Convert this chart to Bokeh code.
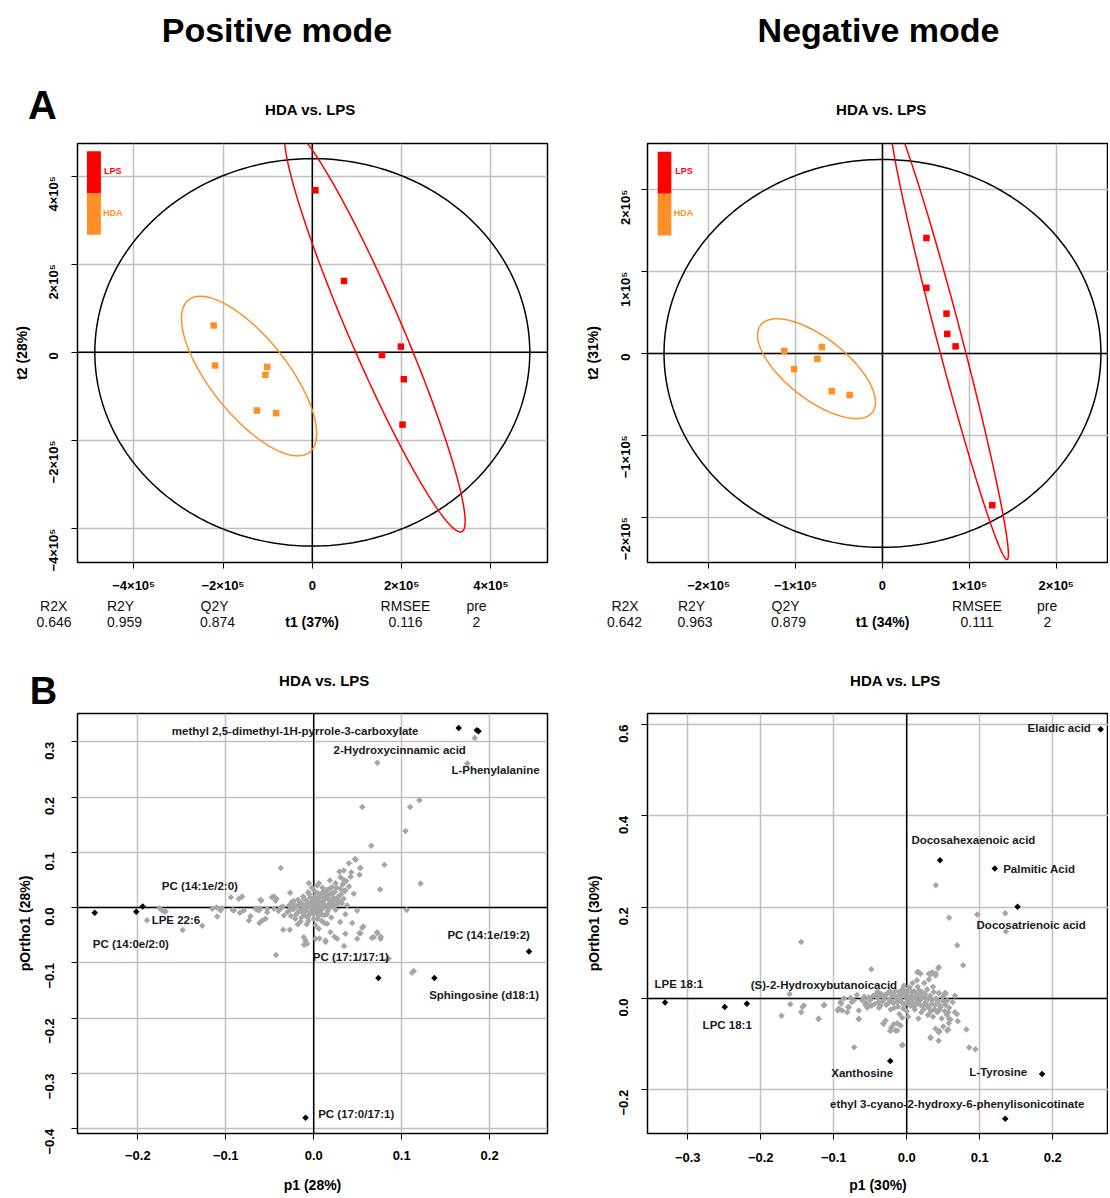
import numpy as np
from bokeh.plotting import figure
from bokeh.models import Range1d, FixedTicker, Span, Label
from bokeh.layouts import column, row
from bokeh.embed import file_html
from bokeh.resources import INLINE
from bokeh.core.properties import value

FONT = "Liberation Sans"

# ---------------- data ----------------
# OPLS-DA scores, positive mode
pos_lps_t1 = [0.07e5, 0.71e5, 1.56e5, 1.985e5, 2.05e5, 2.02e5]
pos_lps_t2 = [3.68e5, 1.62e5, -0.06e5, 0.13e5, -0.61e5, -1.64e5]
pos_hda_t1 = [-2.21e5, -2.18e5, -1.01e5, -1.05e5, -1.24e5, -0.81e5]
pos_hda_t2 = [0.61e5, -0.30e5, -0.33e5, -0.51e5, -1.32e5, -1.38e5]
# OPLS-DA scores, negative mode
neg_lps_t1 = [0.506e5, 0.506e5, 0.737e5, 0.745e5, 0.841e5, 1.263e5]
neg_lps_t2 = [1.41e5, 0.80e5, 0.486e5, 0.238e5, 0.086e5, -1.854e5]
neg_hda_t1 = [-1.13e5, -0.697e5, -0.749e5, -1.017e5, -0.584e5, -0.378e5]
neg_hda_t2 = [0.03e5, 0.078e5, -0.066e5, -0.191e5, -0.461e5, -0.508e5]

stat_names = ["R2X", "R2Y", "Q2Y", "RMSEE", "pre"]
pos_stat_values = ["0.646", "0.959", "0.874", "0.116", "2"]
neg_stat_values = ["0.642", "0.963", "0.879", "0.111", "2"]

pos_ticks = [-400000, -200000, 0, 200000, 400000]
pos_tick_labels = ["\u22124\u00d710\u2075", "\u22122\u00d710\u2075", "0", "2\u00d710\u2075", "4\u00d710\u2075"]
neg_ticks = [-200000, -100000, 0, 100000, 200000]
neg_tick_labels = ["\u22122\u00d710\u2075", "\u22121\u00d710\u2075", "0", "1\u00d710\u2075", "2\u00d710\u2075"]

# Loadings (S-plot) positive mode: highlighted metabolites
pos_hi_p1 = [-0.249, -0.2018, -0.1945, 0.1648, 0.1855, 0.1875, 0.2448, 0.0735, 0.1372, -0.0093]
pos_hi_po1 = [-0.0093, -0.0074, 0.0019, 0.3246, 0.3205, 0.3190, -0.0795, -0.1273, -0.1273, -0.380]
pos_names = ["methyl 2,5-dimethyl-1H-pyrrole-3-carboxylate", "2-Hydroxycinnamic acid", "L-Phenylalanine",
             "PC (14:1e/2:0)", "LPE 22:6", "PC (14:0e/2:0)", "PC (14:1e/19:2)", "PC (17:1/17:1)",
             "Sphingosine (d18:1)", "PC (17:0/17:1)"]
pos_name_x = [-0.0211, 0.0978, 0.2067, -0.1295, -0.1567, -0.2079, 0.1989, 0.0422, 0.1937, 0.0483]
pos_name_y = [0.3197, 0.2843, 0.2495, 0.0391, -0.0217, -0.0652, -0.0497, -0.090, -0.1583, -0.3724]

# Loadings positive mode: all other variables (p1, pOrtho1)
pos_grey = [
    (-0.030, -0.008), (-0.028, 0.004), (-0.026, -0.015), (-0.025, 0.010), (-0.024, -0.003), (-0.022, 0.006),
    (-0.021, -0.020), (-0.020, 0.000), (-0.019, -0.010), (-0.018, 0.014), (-0.017, 0.004), (-0.016, -0.006),
    (-0.015, -0.025), (-0.014, 0.008), (-0.013, -0.002), (-0.012, 0.020), (-0.011, -0.014), (-0.010, 0.004),
    (-0.009, -0.006), (-0.008, 0.012), (-0.007, -0.018), (-0.006, 0.001), (-0.005, 0.024), (-0.004, -0.009),
    (-0.003, 0.008), (-0.002, -0.002), (-0.001, 0.015), (0.000, -0.012), (0.000, 0.004), (0.001, 0.030),
    (0.002, -0.004), (0.003, 0.010), (0.004, -0.020), (0.005, 0.002), (0.006, 0.018), (0.007, -0.008),
    (0.008, 0.006), (0.009, 0.026), (0.010, -0.002), (0.011, 0.012), (0.012, -0.014), (0.013, 0.020),
    (0.014, 0.004), (0.015, 0.032), (0.016, -0.006), (0.017, 0.014), (0.018, 0.024), (0.019, 0.000),
    (0.020, -0.018), (0.021, 0.008), (0.022, 0.018), (0.024, 0.028), (0.025, -0.004), (0.026, 0.012),
    (0.028, 0.020), (0.030, -0.026), (0.032, 0.008), (0.034, 0.016), (0.036, -0.012), (0.038, 0.004),
    (-0.002, 0.036), (0.004, 0.040), (0.010, 0.036), (-0.008, -0.030), (0.002, -0.032), (0.012, -0.028),
    (-0.018, -0.030), (0.006, 0.044), (-0.035, 0.002), (-0.040, -0.006),
    (-0.027, -0.004), (-0.023, 0.012), (-0.020, -0.013), (-0.016, 0.010), (-0.013, -0.008), (-0.011, 0.016),
    (-0.009, 0.000), (-0.007, 0.006), (-0.005, -0.013), (-0.004, 0.018), (-0.002, 0.010), (-0.001, -0.006),
    (0.001, 0.020), (0.002, 0.006), (0.003, -0.010), (0.004, 0.014), (0.005, 0.026), (0.006, -0.002),
    (0.007, 0.010), (0.008, 0.020), (0.009, -0.012), (0.010, 0.008), (0.011, 0.028), (0.012, 0.016),
    (0.013, 0.002), (0.014, 0.024), (0.016, 0.018), (0.017, 0.006), (0.018, 0.034), (0.020, 0.012),
    (0.021, 0.026), (0.023, 0.002), (0.024, 0.016), (0.026, 0.036), (0.027, 0.006), (0.029, 0.012),
    (0.031, 0.024), (0.033, 0.042), (0.035, 0.030), (0.037, 0.048), (0.040, 0.038), (0.042, 0.056),
    (-0.006, -0.024), (0.000, -0.020), (0.006, -0.014), (0.015, -0.012), (-0.014, -0.018), (0.009, -0.024),
    (0.040, 0.080), (0.0477, 0.0864), (0.0532, 0.072), (0.0521, 0.0592), (0.0343, 0.067), (0.0293, 0.0652),
    (0.0426, 0.064), (0.0304, 0.055), (0.0343, 0.050), (0.0184, 0.049), (0.0248, 0.0442), (0.021, 0.0369),
    (0.0304, 0.0339), (0.036, 0.0309), (0.0456, 0.0249), (0.0494, -0.0053), (-0.0055, 0.0442),
    (-0.0063, 0.0279), (-0.0268, 0.0267), (-0.0453, 0.0201), (-0.0423, 0.0159), (-0.0605, -0.002),
    (-0.053, -0.002), (-0.0453, -0.002), (-0.0378, -0.002), (-0.0226, -0.002), (-0.0548, -0.0203),
    (-0.0339, -0.0143), (-0.0347, -0.0402), (-0.0272, -0.0402), (-0.0113, -0.0535), (-0.0093, -0.0595),
    (-0.0075, -0.0655), (0.0020, -0.0565), (0.0058, -0.0384), (0.0153, -0.0294), (0.019, -0.0444),
    (0.0266, -0.0565), (0.036, -0.0474), (0.0494, -0.0565), (0.0532, -0.0462), (0.055, -0.0366),
    (0.0684, -0.0535), (0.0721, -0.0444), (0.0759, -0.0565), (0.0134, -0.0595),
    (0.1831, 0.3066), (0.1746, 0.2607), (0.0723, 0.2619), (0.1202, 0.1943), (0.0552, 0.1819), (0.1096, 0.1819),
    (0.1043, 0.1384), (0.0654, 0.1117), (0.0471, 0.0881), (0.0804, 0.0776), (0.0528, 0.0714), (-0.0374, 0.0714),
    (0.1214, 0.0435), (0.0755, 0.0329), (0.1056, -0.0043), (0.1137, -0.1148), (0.1117, -0.118), (0.0836, -0.0944),
    (0.0723, -0.0466), (0.0763, -0.0528), (0.0662, -0.0546), (0.0345, -0.0695), (0.052, -0.0466), (0.0564, -0.0341),
    (0.0438, -0.0279), (-0.043, -0.0857), (-0.011, -0.067), (0.0134, -0.062), (0.0065, -0.0559), (0.0235, -0.0528),
    (0.085, -0.092),
    (-0.1896, -0.023), (-0.1705, -0.0062), (-0.1754, -0.0012), (-0.149, -0.0403), (-0.1267, -0.0329),
    (-0.1104, 0.0), (-0.1043, -0.0012), (-0.0942, 0.0186), (-0.0922, -0.0043), (-0.084, -0.0093),
    (-0.0719, -0.0155), (-0.0646, -0.0031), (-0.0617, -0.0279), (-0.0597, 0.0124), (-0.0475, 0.0186),
    (-0.0434, 0.0124), (-0.0374, 0.0), (-0.1723, -0.0052), (-0.1685, -0.007), (-0.1154, -0.0022),
    (-0.1097, -0.0161), (-0.106, -0.0052), (-0.0908, -0.0052), (-0.0852, 0.0159), (-0.0813, 0.0201),
    (-0.0795, -0.0052), (-0.0738, -0.0233), (-0.0605, 0.0141), (-0.0624, -0.0052), (-0.0586, -0.0233),
    (-0.0529, -0.0083), (-0.0662, -0.0022),
]

# Loadings negative mode: highlighted metabolites
neg_hi_p1 = [0.2656, 0.0456, 0.1206, 0.1518, -0.331, -0.2493, -0.219, -0.0226, 0.1854, 0.135]
neg_hi_po1 = [0.590, 0.303, 0.285, 0.2008, -0.009, -0.0188, -0.0113, -0.1368, -0.1654, -0.2632]
neg_names = ["Elaidic acid", "Docosahexaenoic acid", "Palmitic Acid", "Docosatrienoic acid", "LPE 18:1",
             "LPC 18:1", "(S)-2-Hydroxybutanoicacid", "Xanthosine", "L-Tyrosine",
             "ethyl 3-cyano-2-hydroxy-6-phenylisonicotinate"]
neg_name_x = [0.2089, 0.0913, 0.1816, 0.1705, -0.3122, -0.2459, -0.1134, -0.061, 0.1254, 0.0692]
neg_name_y = [0.5925, 0.348, 0.2842, 0.1617, 0.0323, -0.0586, 0.0301, -0.1639, -0.1617, -0.2316]

neg_grey = [
    (-0.050, -0.004), (-0.046, 0.006), (-0.044, -0.012), (-0.040, 0.002), (-0.038, -0.020), (-0.035, 0.010),
    (-0.033, -0.006), (-0.030, 0.004), (-0.028, -0.014), (-0.026, 0.012), (-0.024, -0.002), (-0.022, -0.024),
    (-0.020, 0.006), (-0.018, -0.010), (-0.016, 0.016), (-0.014, 0.000), (-0.012, -0.018), (-0.010, 0.008),
    (-0.008, -0.006), (-0.006, 0.020), (-0.004, -0.014), (-0.002, 0.004), (0.000, -0.028), (0.000, 0.012),
    (0.002, -0.004), (0.004, 0.024), (0.005, -0.016), (0.006, 0.006), (0.008, -0.008), (0.010, 0.016),
    (0.011, -0.024), (0.012, 0.002), (0.014, -0.012), (0.015, 0.026), (0.016, 0.008), (0.018, -0.004),
    (0.020, -0.030), (0.021, 0.014), (0.022, -0.016), (0.024, 0.004), (0.026, -0.008), (0.028, 0.020),
    (0.029, -0.036), (0.030, -0.020), (0.032, 0.006), (0.034, -0.012), (0.036, -0.040), (0.038, -0.024),
    (0.040, 0.000), (0.042, -0.030), (0.044, 0.012), (0.046, -0.016), (0.048, -0.044), (0.050, -0.006),
    (0.052, -0.028), (0.055, -0.036), (0.058, -0.020), (0.060, -0.046), (-0.054, -0.020), (-0.058, 0.004),
    (0.008, 0.034), (-0.004, 0.028), (0.014, 0.040), (0.024, 0.034), (0.036, 0.026), (0.002, -0.040),
    (-0.010, -0.034), (0.016, -0.044), (0.066, -0.030), (0.070, -0.050), (0.063, -0.008), (0.066, 0.006),
    (-0.056, -0.010), (-0.052, 0.002), (-0.048, -0.016), (-0.042, 0.008), (-0.039, -0.008), (-0.036, -0.016),
    (-0.031, -0.002), (-0.029, 0.008), (-0.025, -0.010), (-0.023, 0.016), (-0.021, -0.006), (-0.019, 0.010),
    (-0.017, -0.020), (-0.015, 0.004), (-0.013, -0.008), (-0.011, 0.014), (-0.009, -0.002), (-0.007, 0.010),
    (-0.005, -0.022), (-0.003, 0.014), (-0.001, -0.010), (0.001, 0.020), (0.003, 0.002), (0.004, -0.010),
    (0.007, 0.014), (0.009, 0.000), (0.010, -0.018), (0.013, 0.010), (0.015, -0.006), (0.017, 0.018),
    (0.019, -0.014), (0.020, 0.002), (0.023, -0.024), (0.025, 0.010), (0.027, -0.014), (0.030, 0.000),
    (0.033, -0.028), (0.035, -0.004), (0.037, 0.014), (0.039, -0.014), (0.043, -0.006), (0.045, -0.024),
    (0.049, 0.004), (0.053, -0.014), (0.057, -0.030),
    (0.0399, 0.2481), (0.0581, 0.1767), (0.0965, 0.1842), (0.135, 0.1865), (0.1359, 0.1466), (0.0692, 0.1165),
    (0.0773, 0.0729), (-0.1446, 0.124), (-0.0485, 0.0639), (0.0432, 0.0662), (0.0399, 0.0549), (0.0327, 0.0526),
    (0.0159, 0.0579), (0.0303, 0.0414), (0.0528, 0.0128),
    (0.0941, -0.1113), (0.0855, -0.1075), (0.0817, -0.0677), (0.0567, -0.0677), (0.0447, -0.0714),
    (0.0437, -0.0925), (0.0327, -0.0865), (-0.0058, -0.1015), (-0.013, -0.0699), (-0.0226, -0.0714),
    (-0.0322, -0.0549), (-0.0178, -0.0564), (-0.072, -0.1068), (-0.0658, -0.0451), (0.0687, -0.0338),
    (0.0581, -0.0451),
    (-0.1715, -0.0376), (-0.1595, -0.0128), (-0.1604, 0.0098), (-0.1446, -0.0301), (-0.1427, -0.0188),
    (-0.121, -0.0451), (-0.1129, -0.0135), (-0.0946, -0.0263), (-0.0898, -0.0113), (-0.0802, -0.0188),
    (-0.0754, -0.0075), (-0.0682, 0.0075), (-0.061, -0.0038), (-0.0514, 0.0), (-0.0394, 0.015), (-0.0562, -0.015),
    (0.0144, 0.0576), (0.0189, 0.054), (0.0303, 0.054), (0.0349, 0.0576), (0.0395, 0.0504), (0.044, 0.0686),
    (-0.141, -0.0153), (-0.1136, -0.0153), (-0.1204, -0.0445), (-0.0907, -0.008), (-0.0861, 0.0),
    (-0.077, 0.0015), (-0.0724, -0.0044), (-0.093, -0.0226), (-0.0884, -0.0263), (-0.0815, -0.03),
    (-0.0793, -0.019), (-0.0656, -0.0263), (-0.0656, -0.0445), (-0.0564, -0.0116), (-0.0519, -0.0153),
    (-0.0404, 0.0138), (-0.0359, 0.0066), (-0.0314, -0.0554), (-0.0212, -0.064), (-0.0153, -0.0701),
    (-0.013, -0.0541), (-0.0062, -0.0423), (-0.0085, -0.0591), (-0.0062, -0.103), (-0.029, -0.048),
    (0.0326, -0.0847), (0.0395, -0.0664), (0.044, -0.0738), (0.05, -0.0613), (0.0555, -0.0701),
    (0.0577, -0.0541), (0.0532, 0.0103), (0.0555, -0.0044), (0.0463, -0.019),
]

pos_ld_xticks = [-0.2, -0.1, 0.0, 0.1, 0.2]
pos_ld_xlabels = ["\u22120.2", "\u22120.1", "0.0", "0.1", "0.2"]
pos_ld_yticks = [-0.4, -0.3, -0.2, -0.1, 0.0, 0.1, 0.2, 0.3]
pos_ld_ylabels = ["\u22120.4", "\u22120.3", "\u22120.2", "\u22120.1", "0.0", "0.1", "0.2", "0.3"]
neg_ld_xticks = [-0.3, -0.2, -0.1, 0.0, 0.1, 0.2]
neg_ld_xlabels = ["\u22120.3", "\u22120.2", "\u22120.1", "0.0", "0.1", "0.2"]
neg_ld_yticks = [-0.2, 0.0, 0.2, 0.4, 0.6]
neg_ld_ylabels = ["\u22120.2", "0.0", "0.2", "0.4", "0.6"]

# ---------------- style / layout constants ----------------
RED = "#FF0000"
ORANGE = "#FF8F26"
GREY = "#A6A6A6"
GRID = "#C0C0C0"
TXT = "#111111"

LW, RW = 566, 542  # column widths

# frame geometry (page pixels) and axis ranges
G1 = dict(fl=77, ft=143, fw=470, fh=421, ox=0, oy=130, w=LW, h=465, xr=(-5.259e5, 5.268e5), yr=(-4.77e5, 4.74e5))
G2 = dict(fl=647, ft=143, fw=461, fh=421, ox=566, oy=130, w=RW, h=465, xr=(-2.704e5, 2.601e5), yr=(-2.554e5, 2.564e5))
G3 = dict(fl=77, ft=713, fw=470, fh=420, ox=0, oy=712, w=LW, h=484, xr=(-0.2686, 0.2658), yr=(-0.4085, 0.351))
G4 = dict(fl=647, ft=713, fw=461, fh=420, ox=566, oy=712, w=RW, h=484, xr=(-0.3551, 0.2764), yr=(-0.2957, 0.6243))


def make_fig(g):
    p = figure(width=g["w"], height=g["h"],
               x_range=Range1d(*g["xr"]), y_range=Range1d(*g["yr"]),
               min_border_left=g["fl"] - g["ox"], min_border_top=g["ft"] - g["oy"],
               min_border_right=g["ox"] + g["w"] - g["fl"] - g["fw"],
               min_border_bottom=g["oy"] + g["h"] - g["ft"] - g["fh"],
               output_backend="svg", toolbar_location=None, frame_align=False)
    p.outline_line_color = "black"
    p.outline_line_width = 1.5
    p.background_fill_color = "white"
    p.border_fill_color = "white"
    return p


def strip(ox, oy, w, h):
    # a text-only panel; its frame covers the whole panel, coordinates = page pixels
    p = figure(width=w, height=h, x_range=Range1d(ox, ox + w), y_range=Range1d(oy + h, oy),
               x_axis_type=None, y_axis_type=None, min_border=0, min_border_left=0, min_border_right=0,
               min_border_top=0, min_border_bottom=0, output_backend="svg", toolbar_location=None,
               frame_align=False)
    p.outline_line_color = None
    p.background_fill_color = "white"
    p.border_fill_color = "white"
    return p


def stext(p, xs, ys, texts, size, bold=False, color="black", align="center"):
    p.text(x=list(xs), y=list(ys), text=list(texts), text_font=value(FONT), text_font_size=value(f"{size}px"),
           text_font_style="bold" if bold else "normal", text_color=color, text_align=align,
           text_baseline="middle")


def style_axes(p, xt, xl, yt, yl, xstand, ystand, ylab, ylabstand, xlab=None, xlabstand=0):
    for ax in (p.xaxis[0], p.yaxis[0]):
        ax.axis_line_color = None
        ax.major_tick_in = 0
        ax.major_tick_out = 6
        ax.major_tick_line_color = "black"
        ax.major_tick_line_width = 1
        ax.minor_tick_line_color = None
        ax.major_label_text_font = FONT
        ax.major_label_text_font_size = "13px"
        ax.major_label_text_font_style = "bold"
        ax.major_label_text_color = "black"
        ax.axis_label_text_font = FONT
        ax.axis_label_text_font_size = "14px"
        ax.axis_label_text_font_style = "bold"
        ax.axis_label_text_color = "black"
    xtk = FixedTicker(ticks=xt)
    ytk = FixedTicker(ticks=yt)
    p.xaxis.ticker = xtk
    p.yaxis.ticker = ytk
    p.xgrid.ticker = xtk
    p.ygrid.ticker = ytk
    p.xaxis.major_label_overrides = dict(zip(xt, xl))
    p.yaxis.major_label_overrides = dict(zip(yt, yl))
    p.xaxis.major_label_standoff = xstand
    p.yaxis.major_label_standoff = ystand
    p.yaxis.major_label_orientation = np.pi / 2
    p.yaxis.axis_label = ylab
    p.yaxis.axis_label_standoff = ylabstand
    if xlab:
        p.xaxis.axis_label = xlab
        p.xaxis.axis_label_standoff = xlabstand
    for gr in (p.xgrid, p.ygrid):
        gr.grid_line_color = GRID
        gr.grid_line_width = 1.5
    p.add_layout(Span(location=0, dimension="width", line_color="black", line_width=1.5, level="underlay"))
    p.add_layout(Span(location=0, dimension="height", line_color="black", line_width=1.5, level="underlay"))


def px2data(g, X, Y):
    x0, x1 = g["xr"]
    y0, y1 = g["yr"]
    return (x0 + (X - g["fl"]) / g["fw"] * (x1 - x0), y1 - (Y - g["ft"]) / g["fh"] * (y1 - y0))


def group_ellipse(t1, t2, n=240):
    X = np.column_stack([t1, t2])
    mu = X.mean(axis=0)
    L = np.linalg.cholesky(np.cov(X, rowvar=False))
    csq = -2.0 * np.log(0.05)  # chi-square(0.95, 2)
    th = np.linspace(0, 2 * np.pi, n)
    pts = mu[:, None] + np.sqrt(csq) * (L @ np.vstack([np.cos(th), np.sin(th)]))
    return pts[0], pts[1]


def hotelling_ellipse(t1, t2, n=360):
    N = len(t1)
    d2 = N - 2
    fq = (d2 / 2.0) * (0.05 ** (-2.0 / d2) - 1.0)  # F(0.95; 2, N-2)
    hot = (N - 1) * 2 * (N ** 2 - 1) / (N ** 2 * (N - 2)) * fq
    a = np.sqrt(np.var(t1, ddof=1) * hot)
    b = np.sqrt(np.var(t2, ddof=1) * hot)
    th = np.linspace(0, 2 * np.pi, n)
    return a * np.cos(th), b * np.sin(th)


def score_panel(g, lps_t1, lps_t2, hda_t1, hda_t2, xt, xl, yt, yl, ylab, ystand, ylabstand, bars, legpos):
    p = make_fig(g)
    style_axes(p, xt, xl, yt, yl, 9, ystand, ylab, ylabstand)
    all_t1 = np.array(lps_t1 + hda_t1)
    all_t2 = np.array(lps_t2 + hda_t2)
    hx, hy = hotelling_ellipse(all_t1, all_t2)
    p.line(hx, hy, line_color="black", line_width=1.5)
    ex, ey = group_ellipse(lps_t1, lps_t2)
    p.line(ex, ey, line_color=RED, line_width=1.5)
    ex, ey = group_ellipse(hda_t1, hda_t2)
    p.line(ex, ey, line_color=ORANGE, line_width=1.5)
    p.scatter(hda_t1, hda_t2, marker="square", size=6.5, fill_color=ORANGE, line_color=None)
    p.scatter(lps_t1, lps_t2, marker="square", size=6.5, fill_color=RED, line_color=None)
    # legend colour bar
    (bx0, bx1, by0, by1, by2) = bars
    l, t = px2data(g, bx0, by0)
    r, m = px2data(g, bx1, by1)
    _, b = px2data(g, bx1, by2)
    p.quad(left=[l], right=[r], top=[t], bottom=[m], fill_color=RED, line_color=None)
    p.quad(left=[l], right=[r], top=[m], bottom=[b], fill_color=ORANGE, line_color=None)
    fb = g["ft"] + g["fh"]
    for (X, Y), txt, col in zip(legpos, ["LPS", "HDA"], [RED, ORANGE]):
        p.add_layout(Label(x=X - g["fl"], y=fb - Y, x_units="screen", y_units="screen", text=txt,
                           text_font=FONT, text_font_size="9px", text_font_style="bold",
                           text_color=col, text_align="left", text_baseline="middle"))
    return p


def loading_panel(g, grey, hi_x, hi_y, names, nx, ny, xt, xl, yt, yl, xstand, ystand, ylab, ylabstand,
                  xlab, xlabstand):
    p = make_fig(g)
    style_axes(p, xt, xl, yt, yl, xstand, ystand, ylab, ylabstand, xlab, xlabstand)
    gx = [a for a, _ in grey]
    gy = [b for _, b in grey]
    p.scatter(gx, gy, marker="square", angle=np.pi / 4, size=4.6, fill_color=GREY, line_color=None)
    p.scatter(hi_x, hi_y, marker="square", angle=np.pi / 4, size=4.6, fill_color="black", line_color=None)
    p.text(x=nx, y=ny, text=names, text_font=value(FONT), text_font_size=value("11.5px"),
           text_font_style="bold", text_align="center", text_baseline="middle", text_color="#1a1a1a")
    return p


# ---------------- top row ----------------
h1 = strip(0, 0, LW, 130)
stext(h1, [276.5], [29], ["Positive mode"], 34, bold=True)
stext(h1, [42], [104], ["A"], 40, bold=True)
stext(h1, [310], [108.6], ["HDA vs. LPS"], 15, bold=True)

h2 = strip(566, 0, RW, 130)
stext(h2, [878], [29], ["Negative mode"], 34, bold=True)
stext(h2, [881], [108.6], ["HDA vs. LPS"], 15, bold=True)

p1 = score_panel(G1, pos_lps_t1, pos_lps_t2, pos_hda_t1, pos_hda_t2, pos_ticks, pos_tick_labels,
                 pos_ticks, pos_tick_labels, "t2 (28%)", 18, 6,
                 (86.4, 100.4, 150.7, 193.2, 234.6), [(103.6, 172.1), (102.5, 214.3)])
p2 = score_panel(G2, neg_lps_t1, neg_lps_t2, neg_hda_t1, neg_hda_t2, neg_ticks, neg_tick_labels,
                 neg_ticks, neg_tick_labels, "t2 (31%)", 16, 7,
                 (657.2, 670.8, 151.4, 193.6, 235.4), [(674.7, 172), (673.3, 214.6)])

t1s = strip(0, 595, LW, 53)
stext(t1s, [53.2, 120, 214, 405, 476], [605] * 5, stat_names, 14, color=TXT)
stext(t1s, [53.6, 124, 217, 405, 476], [621] * 5, pos_stat_values, 14, color=TXT)
stext(t1s, [311.6], [621], ["t1 (37%)"], 14, bold=True)

t2s = strip(566, 595, RW, 53)
stext(t2s, [624.5, 691, 785, 976.5, 1046.7], [605] * 5, stat_names, 14, color=TXT)
stext(t2s, [624, 694.5, 788, 976.5, 1047], [621] * 5, neg_stat_values, 14, color=TXT)
stext(t2s, [882], [621], ["t1 (34%)"], 14, bold=True)

# ---------------- bottom row ----------------
b1 = strip(0, 648, LW, 64)
stext(b1, [43], [690], ["B"], 38, bold=True)
stext(b1, [324], [679.6], ["HDA vs. LPS"], 15, bold=True)

b2 = strip(566, 648, RW, 64)
stext(b2, [895], [679.6], ["HDA vs. LPS"], 15, bold=True)

p3 = loading_panel(G3, pos_grey, pos_hi_p1, pos_hi_po1, pos_names, pos_name_x, pos_name_y,
                   pos_ld_xticks, pos_ld_xlabels, pos_ld_yticks, pos_ld_ylabels, 11, 22,
                   "pOrtho1 (28%)", 5, "p1 (28%)", 14)
p4 = loading_panel(G4, neg_grey, neg_hi_p1, neg_hi_po1, neg_names, neg_name_x, neg_name_y,
                   neg_ld_xticks, neg_ld_xlabels, neg_ld_yticks, neg_ld_ylabels, 13, 18,
                   "pOrtho1 (30%)", 10, "p1 (30%)", 12)

layout = column(
    row(column(h1, p1, t1s, spacing=0), column(h2, p2, t2s, spacing=0), spacing=0),
    row(column(b1, p3, spacing=0), column(b2, p4, spacing=0), spacing=0),
    spacing=0,
)

with open("out.html", "w") as f:
    f.write(file_html(layout, INLINE))
